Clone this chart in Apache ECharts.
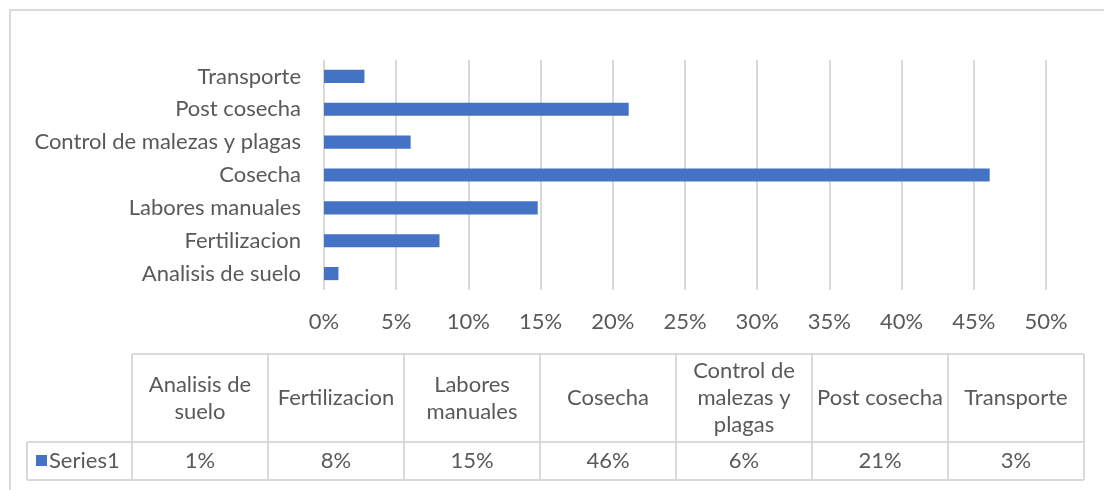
<!DOCTYPE html>
<html>
<head>
<meta charset="utf-8">
<script src="https://cdn.jsdelivr.net/npm/echarts@6/dist/echarts.min.js"></script>
<style>
html, body { margin: 0; padding: 0; background: #fff; }
#main { width: 1104px; height: 490px; }
</style>
</head>
<body>
<div id="main"></div>
<script>
// datos
var categories = ['Analisis de suelo', 'Fertilizacion', 'Labores manuales', 'Cosecha', 'Control de malezas y plagas', 'Post cosecha', 'Transporte'];
var headerLabels = ['Analisis de\nsuelo', 'Fertilizacion', 'Labores\nmanuales', 'Cosecha', 'Control de\nmalezas y\nplagas', 'Post cosecha', 'Transporte'];
var values = [1.0, 8.0, 14.8, 46.1, 6.0, 21.1, 2.8];
var xTicks = [0, 5, 10, 15, 20, 25, 30, 35, 40, 45, 50];
var seriesName = 'Series1';

var textColor = '#595959';
var lineColor = '#d9d9d9';
var barColor = '#4472c4';
var font = 'Lato, "Open Sans", sans-serif';
var fs = 22;

// tabla de datos debajo del grafico
var tLeft = 132, colW = 136, tTop = 354, headH = 88, rowH = 38, keyLeft = 27;
var tRight = tLeft + colW * categories.length;
var rowY = tTop + headH, tBottom = rowY + rowH;

var graphics = [];
// marco exterior
graphics.push({ type: 'rect', shape: { x: 10, y: 10, width: 1300, height: 700 },
    style: { fill: 'none', stroke: lineColor, lineWidth: 2 }, silent: true });

function hline(x1, x2, y) {
    graphics.push({ type: 'line', shape: { x1: x1, y1: y, x2: x2, y2: y },
        style: { stroke: lineColor, lineWidth: 2 }, silent: true });
}
function vline(x, y1, y2) {
    graphics.push({ type: 'line', shape: { x1: x, y1: y1, x2: x, y2: y2 },
        style: { stroke: lineColor, lineWidth: 2 }, silent: true });
}
hline(tLeft, tRight, tTop);
hline(keyLeft, tRight, rowY);
hline(keyLeft, tRight, tBottom);
vline(keyLeft, rowY, tBottom);
for (var i = 0; i <= categories.length; i++) {
    vline(tLeft + i * colW, tTop, tBottom);
}
for (var j = 0; j < categories.length; j++) {
    var cx = tLeft + j * colW + colW / 2;
    graphics.push({ type: 'text', x: cx, y: tTop + headH / 2, silent: true,
        style: { text: headerLabels[j], fill: textColor, font: fs + 'px ' + font,
            align: 'center', verticalAlign: 'middle', lineHeight: 27 } });
    graphics.push({ type: 'text', x: cx, y: rowY + rowH / 2, silent: true,
        style: { text: Math.round(values[j]) + '%', fill: textColor, font: fs + 'px ' + font,
            align: 'center', verticalAlign: 'middle' } });
}
// clave de la serie
graphics.push({ type: 'rect', shape: { x: 36, y: rowY + 13, width: 11, height: 11 },
    style: { fill: barColor }, silent: true });
graphics.push({ type: 'text', x: 49, y: rowY + rowH / 2, silent: true,
    style: { text: seriesName, fill: textColor, font: fs + 'px ' + font,
        align: 'left', verticalAlign: 'middle' } });

var dom = document.getElementById('main');
var myChart = echarts.init(dom);
var option = {
    animation: false,
    backgroundColor: '#fff',
    textStyle: { fontFamily: font },
    grid: { left: 324, right: 58, top: 60, height: 230, containLabel: false },
    xAxis: {
        type: 'value',
        min: xTicks[0],
        max: xTicks[xTicks.length - 1],
        interval: xTicks[1] - xTicks[0],
        axisLine: { show: false },
        axisTick: { show: false },
        axisLabel: { formatter: '{value}%', color: textColor, fontSize: fs, margin: 21 },
        splitLine: { lineStyle: { color: lineColor, width: 2 } }
    },
    yAxis: {
        type: 'category',
        data: categories,
        axisLine: { show: false },
        axisTick: { show: false },
        axisLabel: { color: textColor, fontSize: fs, margin: 23 }
    },
    series: [{
        name: seriesName,
        type: 'bar',
        data: values,
        barCategoryGap: '60%',
        itemStyle: { color: barColor }
    }],
    graphic: graphics
};
myChart.setOption(option, true);
</script>
</body>
</html>
